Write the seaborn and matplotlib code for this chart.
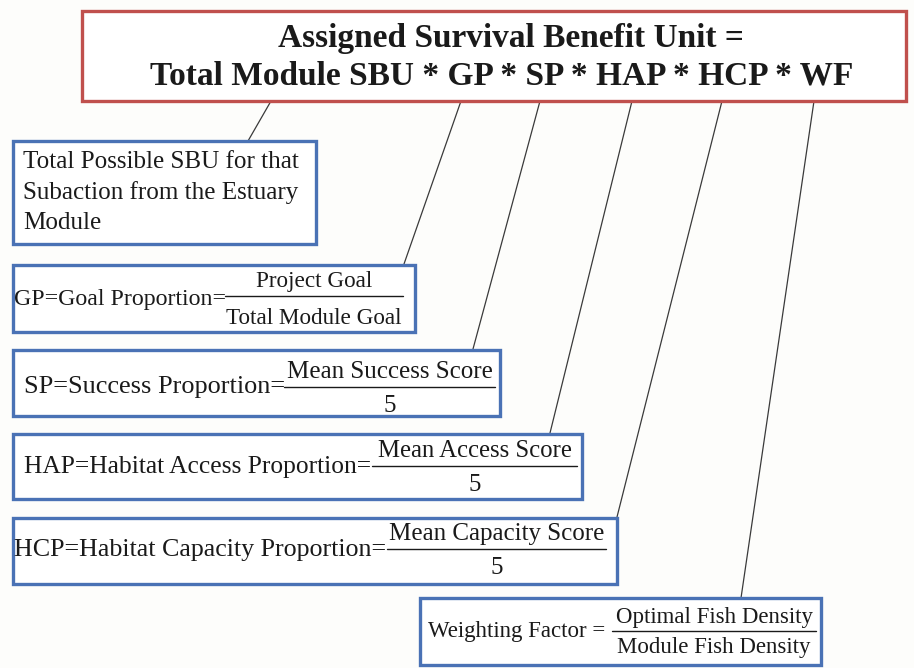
import matplotlib
matplotlib.use("Agg")
import matplotlib.pyplot as plt
from matplotlib.patches import Rectangle
import seaborn as sns

# texts of the diagram
title_lines = ["Assigned Survival Benefit Unit =",
               "Total Module SBU * GP * SP * HAP * HCP * WF"]
module_text = ["Total Possible SBU for that",
               "Subaction from the Estuary",
               "Module"]
labels = ["GP=Goal Proportion=",
          "SP=Success Proportion=",
          "HAP=Habitat Access Proportion=",
          "HCP=Habitat Capacity Proportion=",
          "Weighting Factor ="]
numerators = ["Project Goal", "Mean Success Score", "Mean Access Score",
              "Mean Capacity Score", "Optimal Fish Density"]
denominators = ["Total Module Goal", "5", "5", "5", "Module Fish Density"]

sns.set_theme(style="white")
plt.rcParams['font.family'] = ['Liberation Serif', 'DejaVu Serif']

fig = plt.figure(figsize=(9.14, 6.68), dpi=100)
fig.patch.set_facecolor("#fdfdfb")
ax = fig.add_axes([0, 0, 1, 1])
ax.set_xlim(0, 914)
ax.set_ylim(668, 0)
ax.axis("off")

red = "#c0504d"
blue = "#4a72b5"
ink = "#1a1a1a"

# connectors: (start on red box) -> (end on sub box)
connectors = [((271, 101), (248, 141)),
              ((461, 101), (404, 264)),
              ((540, 101), (473, 349)),
              ((632, 101), (550, 433)),
              ((722, 101), (617, 517)),
              ((814, 101), (741, 598))]
for (x0, y0), (x1, y1) in connectors:
    ax.plot([x0, x1], [y0, y1], color="#3a3a3a", lw=0.9, zorder=1)

def box(x0, y0, x1, y1, color):
    ax.add_patch(Rectangle((x0, y0), x1 - x0, y1 - y0, facecolor="white",
                           edgecolor=color, lw=2.4, zorder=2))

# top formula box
box(82, 11, 906, 101, red)
ax.text(511, 38, title_lines[0], ha="center", va="center", fontsize=24,
        fontweight="bold", color=ink, zorder=3)
ax.text(502, 76, title_lines[1], ha="center", va="center", fontsize=24,
        fontweight="bold", color=ink, zorder=3)

# module box
box(13, 141, 316, 244, blue)
for i, line in enumerate(module_text):
    ax.text(23, 162 + i * 30.5, line, ha="left", va="center", fontsize=18.1,
            color=ink, zorder=3)

# fraction boxes: box, label x/y, fraction line x-range and y, num y, den y,
# label size, fraction size
frames = [((13, 265, 415, 332), (14, 300), (225, 403, 296), 282, 319, 17.2, 16.7),
          ((13, 350, 500, 416), (24, 387), (284, 495, 387), 372, 406, 18.9, 18),
          ((13, 434, 582, 499), (24, 467), (372, 577, 466), 451, 485, 18.4, 17.8),
          ((13, 518, 617, 584), (14, 550), (387, 606, 549), 534, 568, 18.7, 18),
          ((420, 598, 821, 665), (428, 632), (612, 816, 631), 617, 648, 16.5, 16.5)]
for (b, (lx, ly), (fx0, fx1, fy), ny, dy, lfs, fs), lab, num, den in zip(
        frames, labels, numerators, denominators):
    box(*b, blue)
    ax.text(lx, ly, lab, ha="left", va="center", fontsize=lfs, color=ink, zorder=3)
    cx = (fx0 + fx1) / 2
    ax.plot([fx0, fx1], [fy, fy], color=ink, lw=1.0, zorder=3)
    ax.text(cx, ny, num, ha="center", va="center", fontsize=fs, color=ink, zorder=3)
    ax.text(cx, dy, den, ha="center", va="center", fontsize=fs, color=ink, zorder=3)

fig.savefig("out.png", dpi=100, facecolor=fig.get_facecolor())
